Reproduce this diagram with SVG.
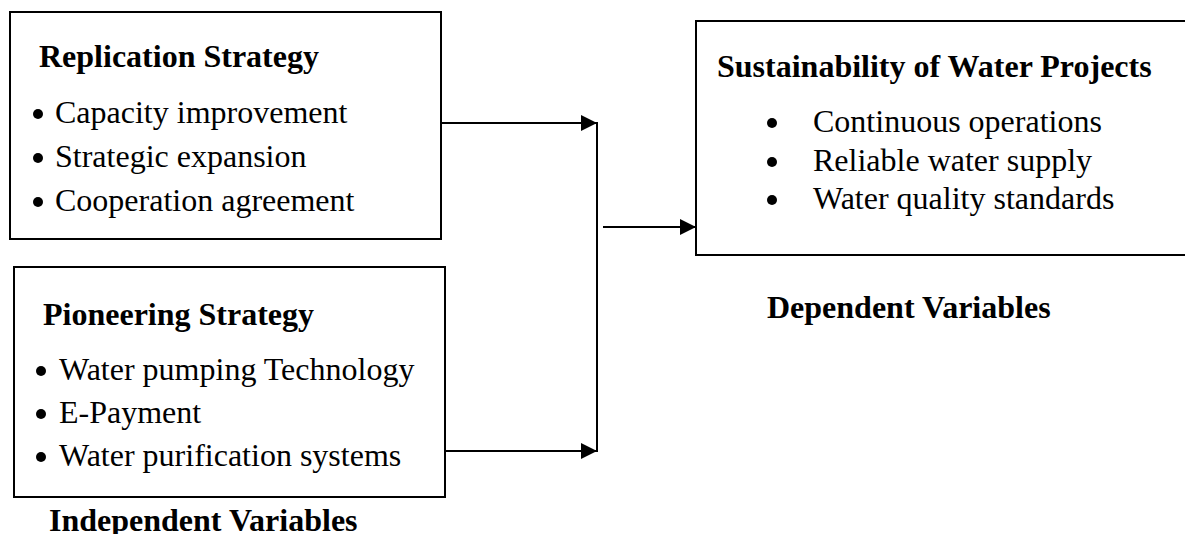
<svg xmlns="http://www.w3.org/2000/svg" width="1185" height="534" viewBox="0 0 1185 534">
<style>
  .box { fill: #fff; stroke: #000; stroke-width: 2; }
  .t { font-family: "Liberation Serif", "Times New Roman", serif; font-size: 32px; fill: #000; }
  .b { font-weight: bold; }
  .dot { fill: #000; }
  .c { fill: none; stroke: #000; stroke-width: 2; }
</style>
<defs>
  <marker id="arr" markerUnits="userSpaceOnUse" markerWidth="16" markerHeight="16" refX="16" refY="8" orient="auto">
    <path d="M0,0 L16,8 L0,16 z" fill="#000"/>
  </marker>
</defs>
<rect width="1185" height="534" fill="#fff"/>
<g id="connectors">
  <line class="c" x1="438" y1="123" x2="597" y2="123" marker-end="url(#arr)"/>
  <line class="c" x1="445" y1="451" x2="597" y2="451" marker-end="url(#arr)"/>
  <line class="c" x1="597" y1="122" x2="597" y2="452"/>
  <line class="c" x1="603" y1="227" x2="696" y2="227" marker-end="url(#arr)"/>
</g>
<g id="replication">
  <rect class="box" x="10" y="12" width="431" height="227"/>
  <text class="t b" x="39" y="67">Replication Strategy</text>
  <circle class="dot" cx="38" cy="114" r="5"/>
  <circle class="dot" cx="38" cy="158" r="5"/>
  <circle class="dot" cx="38" cy="202" r="5"/>
  <text class="t" x="55" y="123">Capacity improvement</text>
  <text class="t" x="55" y="167">Strategic expansion</text>
  <text class="t" x="55" y="211">Cooperation agreement</text>
</g>
<g id="pioneering">
  <rect class="box" x="14" y="267" width="431" height="230"/>
  <text class="t b" x="43" y="325">Pioneering Strategy</text>
  <circle class="dot" cx="41" cy="371" r="5"/>
  <circle class="dot" cx="41" cy="414" r="5"/>
  <circle class="dot" cx="41" cy="457" r="5"/>
  <text class="t" x="59" y="380">Water pumping Technology</text>
  <text class="t" x="59" y="423">E-Payment</text>
  <text class="t" x="59" y="466">Water purification systems</text>
</g>
<g id="independent-label">
  <text class="t b" x="49" y="531">Independent Variables</text>
</g>
<g id="sustainability">
  <rect class="box" x="696" y="21" width="520" height="234"/>
  <text class="t b" x="717" y="77">Sustainability of Water Projects</text>
  <circle class="dot" cx="772" cy="123" r="5"/>
  <circle class="dot" cx="772" cy="162" r="5"/>
  <circle class="dot" cx="772" cy="200" r="5"/>
  <text class="t" x="813" y="132">Continuous operations</text>
  <text class="t" x="813" y="171">Reliable water supply</text>
  <text class="t" x="813" y="209">Water quality standards</text>
</g>
<g id="dependent-label">
  <text class="t b" x="767" y="318">Dependent Variables</text>
</g>
</svg>
